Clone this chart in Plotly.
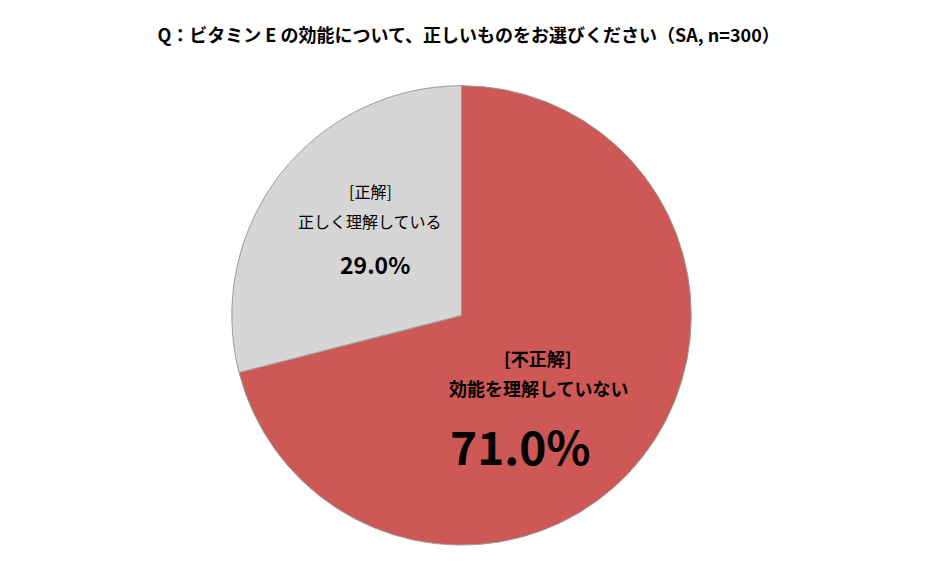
import plotly.graph_objects as go

labels = ["[不正解]<br>効能を理解していない", "[正解]<br>正しく理解している"]
values = [71.0, 29.0]
colors = ["#cd5856", "#d6d6d6"]

fig = go.Figure(go.Pie(
    labels=labels, values=values, sort=False, direction="clockwise",
    rotation=0, marker=dict(colors=colors, line=dict(color="#9a9a9a", width=1)),
    textinfo="none", hoverinfo="label+percent",
    domain=dict(x=[0.238, 0.727], y=[0.046, 0.862]),
))

F = "Noto Sans CJK JP"
def ann(x, y, t, size, bold=False):
    fig.add_annotation(x=x / 940, y=1 - y / 563, xref="paper", yref="paper",
                       xanchor="center", yanchor="middle",
                       text=f"<b>{t}</b>" if bold else t, showarrow=False,
                       font=dict(family=F, size=size, color="#000"))

ann(362, 183, "[正解]", 16)
ann(362, 213, "正しく理解している", 16)
ann(367, 256, f"{values[1]:.1f}%", 23, True)
ann(530, 350, "[不正解]", 18, True)
ann(530, 380, "効能を理解していない", 18, True)
ann(512, 437, f"{values[0]:.1f}%", 46, True)

fig.update_layout(
    width=940, height=563, margin=dict(l=0, r=0, t=0, b=0),
    paper_bgcolor="white", showlegend=False,
    title=dict(text="<b>Q：ビタミン E の効能について、正しいものをお選びください（SA, n=300）</b>",
               x=0.49, y=1 - 28 / 563, xanchor="center", yanchor="middle",
               font=dict(family=F, size=18, color="#000")),
)
fig.write_html("out.html")
